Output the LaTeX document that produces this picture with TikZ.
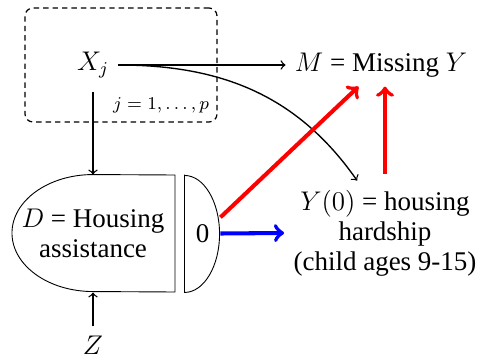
\documentclass[tikz,border=0pt,12pt]{standalone}
\usepackage{fontspec}
\setmainfont{Liberation Serif}
\usetikzlibrary{arrows,positioning,calc}

\begin{document}
\begin{tikzpicture}[x=0.015625cm, y=-0.015625cm,
    font=\fontsize{12}{13.3}\selectfont, >=to,
    link/.style={->, line width=0.6pt},
    redlink/.style={->, line width=1.8pt, red},
    bluelink/.style={->, line width=1.8pt, blue}]
    \useasboundingbox (0,0) rectangle (478,362);
    % plate for the covariates
    \node[draw, line width=0.55pt, rounded corners=3.5pt,
          dash pattern=on 2.4pt off 1.8pt,
          minimum width=3cm, minimum height=1.78cm] (plate) at (121,65) {};
    \node (xj) at (93,65) {$X_j$};
    \node[font=\scriptsize] (jrange) at (161,105) {$j=1,\ldots,p$};
    \node (miss) at (381,65) {$M$ = Missing $Y$};
    \node[align=center] (y0) at (385,233)
      {$Y(0)$ = housing\\ hardship\\ (child ages 9-15)};
    % treatment, split in two halves
    \node[align=center, minimum height=1.828cm] (dnode) at (93,233.5)
      {$D$ = Housing\\ assistance};
    \draw (175,175) -- (dnode.north)
      arc[start angle=90, end angle=270, x radius=1.266cm, y radius=0.914cm]
      -- (175,292) -- cycle;
    \node[minimum width=0.547cm, minimum height=1.828cm, inner sep=0pt] (zero)
      at (202.5,233.5) {0};
    \draw (zero.north west) -- (zero.south west)
      arc[start angle=-90, end angle=90, x radius=0.547cm, y radius=0.914cm];
    \node (z) at (93,345) {$Z$};
    \path[link]
      (xj.east) edge (miss.west)
      (xj.east) edge[out=0, in=125] (y0.118)
      (xj.south) edge[shorten <=2pt] (dnode.north)
      (z) edge (dnode.south);
    \draw[redlink] (zero.42) -- ([xshift=-10pt]miss.south);
    \draw[redlink] ([yshift=3pt]y0.north) -- (y0.north |- miss.south);
    \draw[bluelink] (zero.east) -- (y0.west);
\end{tikzpicture}
\end{document}
